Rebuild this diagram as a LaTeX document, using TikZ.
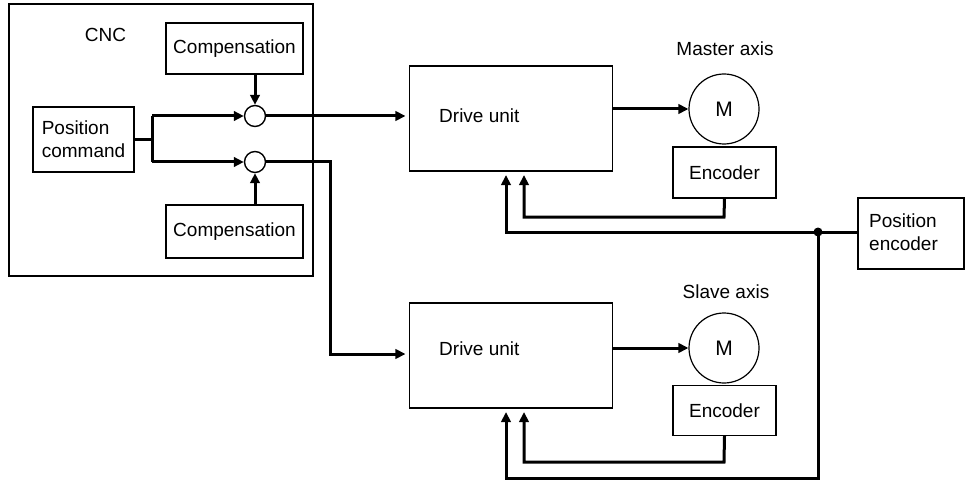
\documentclass[tikz,border=0pt]{standalone}
\usepackage{fontspec}
\setmainfont{Liberation Sans}
\usetikzlibrary{arrows.meta}
\begin{document}
\begin{tikzpicture}[x=1pt,y=-1pt,
 lbl/.style={font=\fontsize{19}{23}\selectfont},
 box/.style={draw,line width=1.1pt,inner sep=0pt,lbl,align=left},
 txt/.style={inner sep=0pt,lbl,align=left},
 sumpt/.style={draw,circle,line width=1.4pt,minimum size=21pt,inner sep=0pt},
 motor/.style={draw,circle,line width=1.2pt,minimum size=70pt,inner sep=0pt,font=\fontsize{21}{25}\selectfont},
 conn/.style={line width=3pt},
 arr/.style={conn,-{Triangle[length=10pt,width=9.5pt]}},
 arrdu/.style={arr,shorten >=3.5pt},
]
\useasboundingbox (0,0) rectangle (965,481);
% CNC block
\node[box,line width=1.2pt,minimum width=304pt,minimum height=272pt] (cnc) at (161,140) {};
\node[txt] (cnct) at (105.5,35) {CNC};
\node[box,minimum width=137pt,minimum height=51pt] (comp1) at (234.5,48.5) {Compensation};
\node[box,minimum width=137pt,minimum height=53pt] (comp2) at (234.5,231.5) {Compensation};
\node[box,minimum width=101pt,minimum height=65pt] (pc) at (83.5,139.5) {Position\\command};
\node[sumpt] (c1) at (255,116) {};
\node[sumpt] (c2) at (255,162) {};
% drive units
\node[box,minimum width=203pt,minimum height=105pt] (du1) at (511,118.5) {};
\node[txt,anchor=west] (du1t) at (439,116) {Drive unit};
\node[box,minimum width=203pt,minimum height=105pt] (du2) at (511,355.5) {};
\node[txt,anchor=west] (du2t) at (439,349) {Drive unit};
% motors
\node[txt] (mat) at (725,49) {Master axis};
\node[motor] (m1) at (724,109) {M};
\node[box,minimum width=103pt,minimum height=51pt] (enc1) at (724.5,172.5) {Encoder};
\node[txt] (sat) at (726,292) {Slave axis};
\node[motor] (m2) at (724,348) {M};
\node[box,minimum width=103pt,minimum height=50pt] (enc2) at (724.5,410.5) {Encoder};
% position encoder
\node[box,minimum width=106pt,minimum height=71pt] (pe) at (911,233.5) {};
\node[txt,anchor=west] (pet) at (869,232) {Position\\encoder};
% connectors
\coordinate (sp) at (152,139.5);
\coordinate (s1) at (152,116);
\coordinate (s2) at (152,162);
\draw[conn] (pc.east) -- (sp);
\draw[conn] (s1) -- (s2);
\draw[arr] (s1) -- (c1.west);
\draw[arr] (s2) -- (c2.west);
\draw[arr] (comp1.south -| c1.north) -- (c1.north);
\draw[arr] (comp2.north -| c2.south) -- (c2.south);
\draw[arrdu] (c1.east) -- (c1.east -| du1.west);
\coordinate (b1) at (330,162);
\coordinate (b2) at (330,354);
\draw[arrdu] (c2.east) -- (b1) -- (b2) -- (b2 -| du2.west);
\draw[arr] (du1.east |- m1.west) -- (m1.west);
\draw[arr] (du2.east |- m2.west) -- (m2.west);
% encoder feedback
\coordinate (f1a) at (724,217);
\coordinate (f1b) at (524,217);
\draw[arrdu] (enc1.south) -- (f1a) -- (f1b) -- (f1b |- du1.south);
\coordinate (f2a) at (724,462);
\coordinate (f2b) at (524,462);
\draw[arrdu] (enc2.south) -- (f2a) -- (f2b) -- (f2b |- du2.south);
% position encoder feedback
\coordinate (j) at (818,232);
\coordinate (p1) at (506,232);
\coordinate (p2) at (818,478);
\coordinate (p3) at (506,478);
\draw[conn] (pe.west |- j) -- (j);
\draw[arrdu] (j) -- (p1) -- (p1 |- du1.south);
\draw[arrdu] (j) -- (p2) -- (p3) -- (p3 |- du2.south);
\fill (j) circle (4.5pt);
\end{tikzpicture}
\end{document}
